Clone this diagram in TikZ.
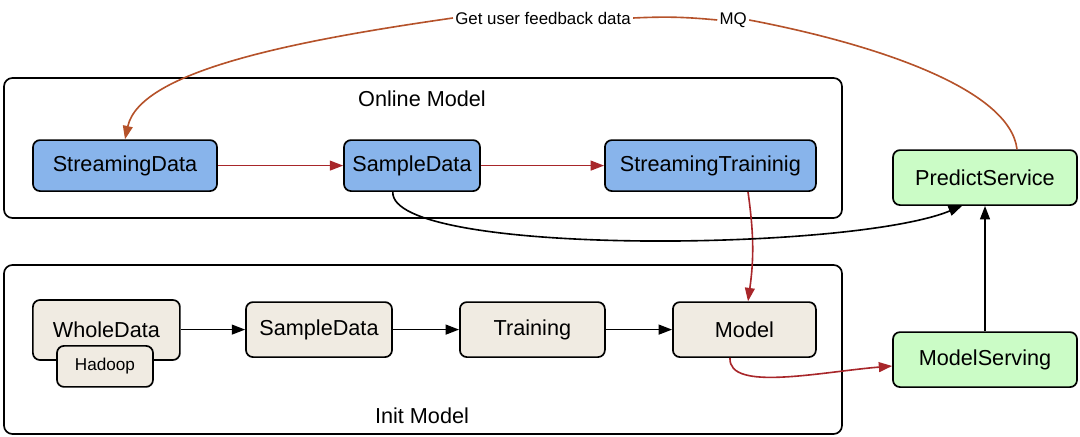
\documentclass[tikz,border=0pt]{standalone}
\usepackage{fontspec}
\setmainfont{Liberation Sans}
\usetikzlibrary{arrows.meta,positioning,calc}
\definecolor{onblue}{HTML}{88B4EB}
\definecolor{svgreen}{HTML}{CBFCC6}
\definecolor{inbeige}{HTML}{F0EBE2}
\definecolor{flowred}{HTML}{A8262A}
\definecolor{fbbrown}{HTML}{B5522A}
\begin{document}
\begin{tikzpicture}[
  font=\fontsize{15.4}{18}\selectfont,
  blk/.style={draw, line width=1.2pt, rounded corners=5pt, minimum height=1.375cm,
    align=center, inner sep=2pt},
  online/.style={blk, fill=onblue, minimum height=1.275cm},
  init/.style={blk, fill=inbeige},
  serve/.style={blk, fill=svgreen},
  group/.style={draw, line width=1.2pt, rounded corners=6pt},
  flow/.style={-{Triangle[length=9.5pt,width=7pt]}, line width=1.15pt},
  redflow/.style={flow, flowred},
  fb/.style={line width=1.15pt, fbbrown},
  lbl/.style={font=\fontsize{12}{14}\selectfont, fill=white, inner sep=1.5pt},
]
  \useasboundingbox (0,0) rectangle (27,-10.925);

  \draw[group] (0.1,-1.95) rectangle (21.05,-5.45);
  \node (onl) at (10.55,-2.475) {Online Model};
  \draw[group] (0.1,-6.625) rectangle (21.05,-10.85);
  \node (inl) at (10.55,-10.4) {Init Model};

  \node[online, minimum width=4.6cm] (sd) at (3.125,-4.14) {StreamingData};
  \node[online, minimum width=3.4cm] (smp) at (10.3,-4.14) {SampleData};
  \node[online, minimum width=5.275cm] (st) at (17.76,-4.14) {StreamingTraininig};
  \node[serve, minimum width=4.6cm] (ps) at (24.625,-4.44) {PredictService};

  \node[init, minimum width=3.675cm, minimum height=1.5cm] (wd) at (2.66,-8.25) {WholeData};
  \node[init, minimum width=2.4cm, minimum height=1.025cm,
    font=\fontsize{12.2}{14}\selectfont] (hd) at (2.625,-9.16) {Hadoop};
  \node[init, minimum width=3.65cm] (smq) at (7.975,-8.24) {SampleData};
  \node[init, minimum width=3.625cm] (tr) at (13.31,-8.24) {Training};
  \node[init, minimum width=3.575cm] (md) at (18.61,-8.24) {Model};
  \node[serve, minimum width=4.6cm] (ms) at (24.625,-8.99) {ModelServing};

  \node[lbl] (mq) at (18.33,-0.5) {MQ};
  \node[lbl] (fbk) at (13.575,-0.45) {Get user feedback data};

  \draw[redflow] (sd) -- (smp);
  \draw[redflow] (smp) -- (st);
  \draw[redflow] ([xshift=0.94cm]st.south) to[bend left=8] ([xshift=0.09cm]md.north);
  \draw[redflow] ([xshift=-0.36cm]md.south) .. controls (18.2,-9.8) and (20.5,-9.3)
    .. ([yshift=-0.16cm]ms.west);

  \draw[flow] ([xshift=-0.48cm]smp.south) .. controls (9.75,-6.4) and (21.25,-6.3)
    .. ([xshift=-0.575cm]ps.south);
  \draw[flow] (wd.east |- smq) -- (smq);
  \draw[flow] (smq) -- (tr);
  \draw[flow] (tr) -- (md);
  \draw[flow] (ms) -- (ps);

  \draw[fb] ([xshift=0.8cm]ps.north) .. controls (25.25,-2.25) and (22,-1.125) .. (mq.east);
  \draw[fb] (mq.west) to[bend right=4] (fbk.east);
  \draw[fb, -{Triangle[length=9.5pt,width=7pt]}] (fbk.west)
    .. controls (7.5,-1) and (3.5,-1.75) .. (sd.north);
\end{tikzpicture}
\end{document}
